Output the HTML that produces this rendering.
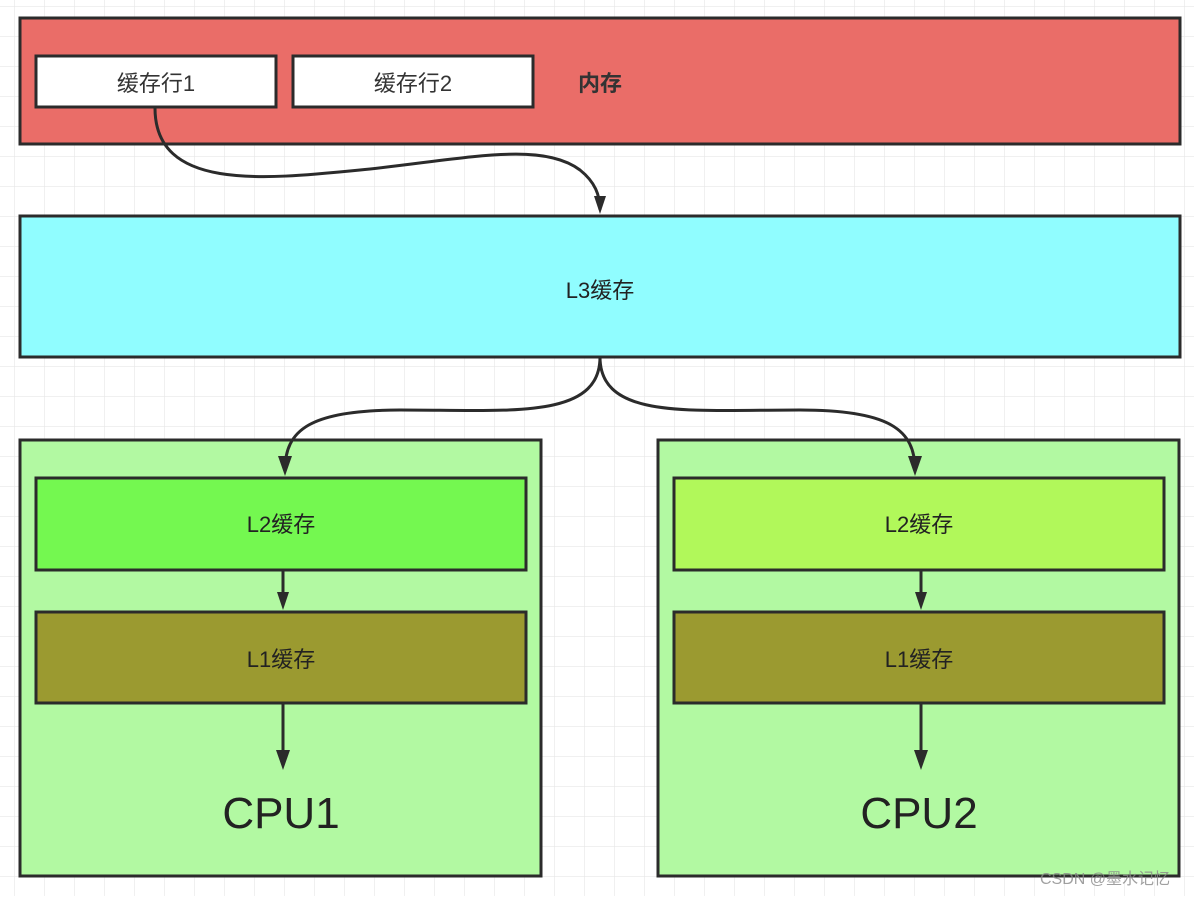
<!DOCTYPE html>
<html><head><meta charset="utf-8"><style>
html,body{margin:0;padding:0;background:#fff}
svg text{font-family:"Liberation Sans","Noto Sans CJK SC",sans-serif}
</style></head><body>
<svg width="1194" height="896" viewBox="0 0 1194 896" xmlns="http://www.w3.org/2000/svg">
<defs>
<pattern id="g" width="30" height="30" patternUnits="userSpaceOnUse" x="15" y="7">
<path d="M30 0V30M0 30H30" fill="none" stroke="#e6e6e6" stroke-width="1.2"/>
</pattern>
<marker id="a" markerWidth="10" markerHeight="10" refX="7" refY="5" orient="auto" markerUnits="userSpaceOnUse">
<path d="M0,0 L10,5 L0,10 L3,5 Z" fill="#333" transform="scale(1.4) translate(-2,-1.5)"/>
</marker>
</defs>
<rect width="1194" height="896" fill="#fff"/>
<rect width="1194" height="896" fill="url(#g)"/>
<g stroke="#2b2b2b" stroke-width="3">
<rect x="20" y="18" width="1160" height="126" fill="#ea6d68"/>
<rect x="36" y="56" width="240" height="51" fill="#fff"/>
<rect x="293" y="56" width="240" height="51" fill="#fff"/>
<rect x="20" y="216" width="1160" height="141" fill="#90fdff"/>
<rect x="20" y="440" width="521" height="436" fill="#b2f9a2"/>
<rect x="658" y="440" width="521" height="436" fill="#b2f9a2"/>
<rect x="36" y="478" width="490" height="92" fill="#74f850"/>
<rect x="674" y="478" width="490" height="92" fill="#b1f85a"/>
<rect x="36" y="612" width="490" height="91" fill="#9b9a30"/>
<rect x="674" y="612" width="490" height="91" fill="#9b9a30"/>
</g>
<g fill="none" stroke="#2b2b2b" stroke-width="3">
<path d="M155,108 C155,190 260,180 360,170 C460,160 540,140 580,170 C595,182 600,195 600,210"/>
<path d="M600,357 C600,420 510,410 400,410 C310,410 285,430 285,470"/>
<path d="M600,357 C600,420 690,410 800,410 C890,410 915,430 915,470"/>
<path d="M283,570 V604"/><path d="M921,570 V604"/>
<path d="M283,703 V765"/><path d="M921,703 V765"/>
</g>
<g fill="#2b2b2b">
<path d="M594,196 L606,196 L600,214 Z"/>
<path d="M278,456 L292,456 L285,476 Z"/>
<path d="M908,456 L922,456 L915,476 Z"/>
<path d="M277,592 L289,592 L283,610 Z"/>
<path d="M915,592 L927,592 L921,610 Z"/>
<path d="M276,750 L290,750 L283,770 Z"/>
<path d="M914,750 L928,750 L921,770 Z"/>
</g>
<g font-size="22" fill="#333" text-anchor="middle">
<text x="156" y="91">缓存行1</text>
<text x="413" y="91">缓存行2</text>
<text x="600" y="91" font-weight="bold" font-size="22">内存</text>
</g>
<g font-size="22" fill="#222" text-anchor="middle">
<text x="600" y="298">L3缓存</text>
<text x="281" y="532">L2缓存</text>
<text x="919" y="532">L2缓存</text>
<text x="281" y="667">L1缓存</text>
<text x="919" y="667">L1缓存</text>
<text x="281" y="828" font-size="44">CPU1</text>
<text x="919" y="828" font-size="44">CPU2</text>
</g>
<text x="1040" y="884" font-size="16" fill="#888" fill-opacity="0.8">CSDN @墨水记忆</text>
</svg>
</body></html>
